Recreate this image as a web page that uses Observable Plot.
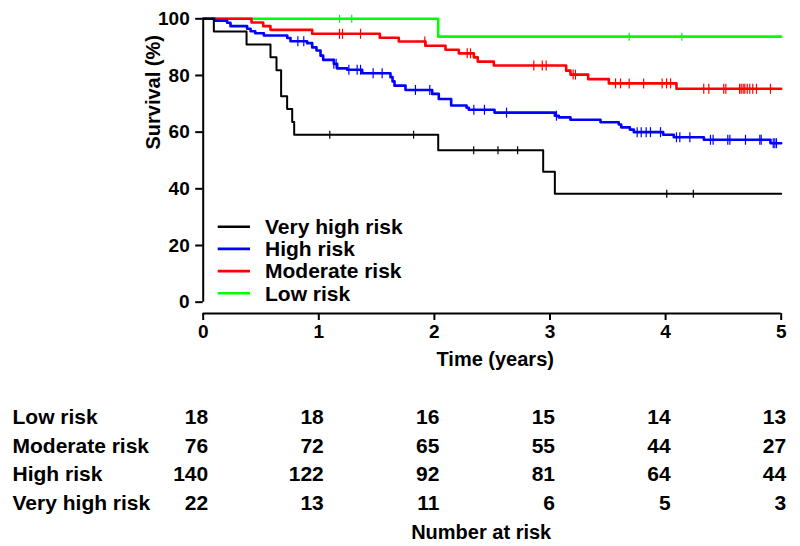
<!DOCTYPE html>
<html>
<head>
<meta charset="utf-8">
<script src="https://cdn.jsdelivr.net/npm/d3@7"></script>
<script src="https://cdn.jsdelivr.net/npm/@observablehq/plot@0.6"></script>
<style>
  body { margin: 0; background: #fff; }
  #chart svg { display: block; }
</style>
</head>
<body>
<div id="chart"></div>
<script>
// ---- Data ----
const groups = ["Very high risk", "High risk", "Moderate risk", "Low risk"];
const groupColors = ["#000000", "#0000ff", "#ff0000", "#00ff00"];

const veryHighTimes = [0, 0.092, 0.375, 0.582, 0.634, 0.674, 0.726, 0.770, 0.787, 2.033, 2.941, 3.042, 5];
const veryHighSurv  = [100, 95.5, 90.9, 86.4, 81.8, 72.7, 68.2, 63.6, 59.1, 53.6, 46.0, 38.3, 38.3];
const veryHighCensor = [1.095, 1.82, 2.34, 2.55, 2.72, 4.01, 4.24];

const highTimes = [0, 0.10, 0.207, 0.236, 0.38, 0.41, 0.45, 0.525, 0.727, 0.755, 0.899, 0.943, 0.980, 1.015, 1.038, 1.130, 1.159, 1.245, 1.375, 1.620, 1.638, 1.655, 1.750, 1.981, 2.038, 2.145, 2.278, 2.298, 2.520, 3.042, 3.076, 3.177, 3.437, 3.595, 3.616, 3.691, 3.725, 3.979, 4.071, 4.331, 4.907, 5];
const highSurv  = [100, 99.3, 98.6, 97.4, 96.5, 95.6, 94.9, 94.1, 93.2, 92.1, 91.4, 89.9, 88.8, 87.0, 85.5, 84.1, 82.5, 82.0, 80.8, 79.4, 77.9, 76.4, 74.9, 73.5, 71.7, 69.4, 68.6, 67.9, 66.9, 65.8, 65.2, 64.4, 63.5, 62.7, 61.7, 60.9, 60.0, 59.1, 58.2, 57.3, 56.1, 56.1];
const highCensor = [0.819, 0.870, 1.130, 1.150, 1.260, 1.332, 1.361, 1.470, 1.548, 1.836, 1.960, 2.341, 2.433, 2.624, 3.056, 3.754, 3.789, 3.832, 3.869, 3.956, 4.094, 4.123, 4.210, 4.388, 4.411, 4.538, 4.556, 4.691, 4.815, 4.827, 4.931, 4.945, 4.959];

const moderateTimes = [0, 0.418, 0.519, 0.582, 0.943, 1.528, 1.692, 1.923, 2.096, 2.211, 2.341, 2.375, 2.514, 3.14, 3.177, 3.33, 3.509, 4.094, 5];
const moderateSurv  = [100, 98.7, 97.4, 96.1, 94.7, 93.3, 92.0, 90.5, 89.1, 87.8, 86.4, 84.9, 83.5, 81.7, 80.3, 78.7, 77.2, 75.3, 75.3];
const moderateCensor = [1.179, 1.205, 1.361, 1.917, 2.284, 2.312, 2.86, 2.933, 2.967, 3.2, 3.22, 3.567, 3.61, 3.685, 3.81, 3.97, 4.008, 4.043, 4.33, 4.374, 4.503, 4.521, 4.64, 4.654, 4.671, 4.685, 4.706, 4.728, 4.754, 4.786, 4.907];

const lowTimes = [0, 2.033, 5];
const lowSurv  = [100, 93.7, 93.7];
const lowCensor = [1.18, 1.285, 3.685, 4.14];

// Number at risk table
const atRiskTimes = [0, 1, 2, 3, 4, 5];
const tableGroups = ["Low risk", "Moderate risk", "High risk", "Very high risk"];
const atRiskLow      = [18, 18, 16, 15, 14, 13];
const atRiskModerate = [76, 72, 65, 55, 44, 27];
const atRiskHigh     = [140, 122, 92, 81, 64, 44];
const atRiskVeryHigh = [22, 13, 11, 6, 5, 3];

const xTicks = [0, 1, 2, 3, 4, 5];
const yTicks = [0, 20, 40, 60, 80, 100];

// ---- Build tables for the library ----
const series = [
  {name: "Low risk", times: lowTimes, surv: lowSurv, censor: lowCensor, color: groupColors[3], w: 2.6, h: 4},
  {name: "Moderate risk", times: moderateTimes, surv: moderateSurv, censor: moderateCensor, color: groupColors[2], w: 2.6, h: 5},
  {name: "High risk", times: highTimes, surv: highSurv, censor: highCensor, color: groupColors[1], w: 2.6, h: 5},
  {name: "Very high risk", times: veryHighTimes, surv: veryHighSurv, censor: veryHighCensor, color: groupColors[0], w: 2, h: 4}
];
function survAt(s, t) {
  let v = s.surv[0];
  for (let i = 0; i < s.times.length; i++) if (s.times[i] <= t) v = s.surv[i];
  return v;
}
const tickSymbol = { draw(ctx, size) { const h = Math.sqrt(size / Math.PI); ctx.moveTo(0, -h); ctx.lineTo(0, h); } };

const xDomain = [0, 5];
const yDomain = [-4, 100];

const curveMarks = series.flatMap(s => {
  const pts = s.times.map((t, i) => ({t, s: s.surv[i]}));
  const cens = s.censor.map(t => ({t, s: survAt(s, t)}));
  return [
    Plot.line(pts, {x: "t", y: "s", curve: "step-after", stroke: s.color, strokeWidth: s.w}),
    Plot.dot(cens, {x: "t", y: "s", symbol: tickSymbol, r: s.h, stroke: s.color, strokeWidth: 1.2, fill: "none"})
  ];
});

const tableData = [atRiskLow, atRiskModerate, atRiskHigh, atRiskVeryHigh];
const rowBaselines = [423.5, 452, 480.5, 509];
const frameBottom = 313;
const tableMarks = tableGroups.flatMap((g, r) => {
  const rows = atRiskTimes.map((t, i) => ({t, n: tableData[r][i]}));
  return [
    Plot.text([g], {text: d => d, frameAnchor: "bottom-left", textAnchor: "start", lineAnchor: "bottom", dx: -190.7, dy: rowBaselines[r] - frameBottom, fontSize: 21}),
    Plot.text(rows, {x: "t", text: "n", frameAnchor: "bottom", textAnchor: "end", lineAnchor: "bottom", dx: 5, dy: rowBaselines[r] - frameBottom, fontSize: 21})
  ];
});

const legendMark = () => {
  const g = d3.create("svg:g");
  groups.forEach((name, i) => {
    const yy = 226.7 + i * 22.2;
    g.append("line").attr("x1", 217.7).attr("x2", 250).attr("y1", yy).attr("y2", yy)
      .attr("stroke", groupColors[i]).attr("stroke-width", 2.6);
    g.append("text").attr("x", 265).attr("y", yy).attr("dy", "0.35em")
      .attr("text-anchor", "start")
      .attr("font-size", 21).attr("fill", "black").text(name);
  });
  return g.node();
};

const plot = Plot.plot({
  width: 800,
  height: 546,
  marginLeft: 202.7,
  marginRight: 19.3,
  marginTop: 18.3,
  marginBottom: 233,
  style: {fontFamily: "'Liberation Sans', Arial, sans-serif", fontWeight: "bold", background: "white", color: "black", overflow: "visible"},
  x: {domain: xDomain},
  y: {domain: yDomain},
  marks: [
    Plot.axisY({ticks: yTicks, tickSize: 7.5, tickPadding: 6, fontSize: 19, strokeWidth: 2, label: null}),
    Plot.axisX({ticks: xTicks, tickSize: 7, tickPadding: 4, fontSize: 19, strokeWidth: 2, label: null, tickFormat: d => d}),
    Plot.ruleX([xDomain[0]], {y1: 0, y2: 100, strokeWidth: 2}),
    Plot.ruleY([yDomain[0]], {x1: xDomain[0], x2: xDomain[1], strokeWidth: 2}),
    ...curveMarks,
    legendMark,
    Plot.text(["Time (years)"], {text: d => d, frameAnchor: "bottom", lineAnchor: "bottom", dx: 3, dy: 52, fontSize: 20}),
    Plot.text(["Survival (%)"], {text: d => d, frameAnchor: "left", rotate: -90, lineAnchor: "middle", dx: -49.2, dy: -16.6, fontSize: 20}),
    ...tableMarks,
    Plot.text(["Number at risk"], {text: d => d, frameAnchor: "bottom", lineAnchor: "bottom", dx: -11, dy: 225.3, fontSize: 20})
  ]
});
document.getElementById("chart").append(plot);
</script>
</body>
</html>
